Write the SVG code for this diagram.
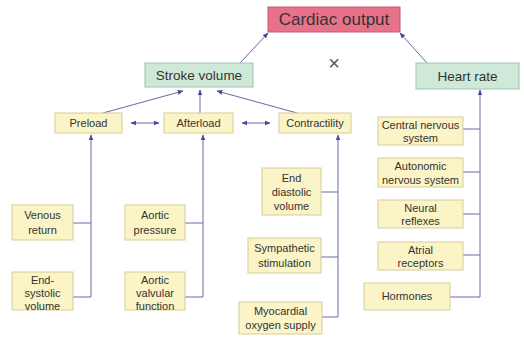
<svg xmlns="http://www.w3.org/2000/svg" width="524" height="337" viewBox="0 0 524 337">
<style>
.y{fill:#fbf4c6;stroke:#d6cd98;stroke-width:1}
.g{fill:#cfe9d9;stroke:#9fc4ae;stroke-width:1}
.p{fill:#e8728a;stroke:#c35a70;stroke-width:1}
.t{font-family:"Liberation Sans",Arial,sans-serif;font-size:11px;fill:#333;text-anchor:middle}
.l{stroke:#6a68a8;stroke-width:1;fill:none}
</style>
<defs>
<marker id="a" viewBox="0 0 10 10" refX="9" refY="5" markerWidth="6" markerHeight="6" orient="auto-start-reverse" markerUnits="userSpaceOnUse">
<path d="M0,1 L10,5 L0,9 Z" fill="#4a4898"/>
</marker>
</defs>
<rect width="524" height="337" fill="#fff"/>
<g id="connectors" class="l">
<line x1="240" y1="63" x2="268" y2="33" marker-end="url(#a)"/>
<line x1="427" y1="63" x2="400" y2="33" marker-end="url(#a)"/>
<line x1="103" y1="113" x2="183" y2="91" marker-end="url(#a)"/>
<line x1="200" y1="113" x2="200" y2="90" marker-end="url(#a)"/>
<line x1="297" y1="113" x2="217" y2="91" marker-end="url(#a)"/>
<line x1="131" y1="123" x2="159" y2="123" marker-start="url(#a)" marker-end="url(#a)"/>
<line x1="242" y1="123" x2="270" y2="123" marker-start="url(#a)" marker-end="url(#a)"/>
<polyline points="73,223 91,223"/>
<polyline points="73,297 91,297 91,135" marker-end="url(#a)"/>
<polyline points="185,223 203,223"/>
<polyline points="185,297 203,297 203,135" marker-end="url(#a)"/>
<polyline points="321,192 338,192"/>
<polyline points="321,257 338,257"/>
<polyline points="322,317 338,317 338,135" marker-end="url(#a)"/>
<polyline points="463,129 480,129"/>
<polyline points="463,172 480,172"/>
<polyline points="463,214 480,214"/>
<polyline points="463,255 480,255"/>
<polyline points="450,297 480,297 480,90" marker-end="url(#a)"/>
</g>
<g id="cardiac-output"><rect class="p" x="268" y="7" width="132" height="25"/><text class="t" x="334" y="25" style="font-size:17px">Cardiac output</text></g>
<g id="times"><text class="t" x="334" y="70" style="font-size:20px;fill:#555">×</text></g>
<g id="stroke-volume"><rect class="g" x="145" y="63" width="108" height="24"/><text class="t" x="199" y="80" style="font-size:13.5px">Stroke volume</text></g>
<g id="heart-rate"><rect class="g" x="416" y="63" width="103" height="26"/><text class="t" x="467.5" y="81" style="font-size:13.5px">Heart rate</text></g>
<g id="preload"><rect class="y" x="55" y="113" width="67" height="20"/><text class="t" x="88.5" y="127">Preload</text></g>
<g id="afterload"><rect class="y" x="164" y="113" width="69" height="20"/><text class="t" x="198.5" y="127">Afterload</text></g>
<g id="contractility"><rect class="y" x="279" y="113" width="72" height="20"/><text class="t" x="315" y="127">Contractility</text></g>
<g id="venous-return"><rect class="y" x="12" y="205" width="61" height="35"/><text class="t" x="42.5" y="219">Venous</text><text class="t" x="42.5" y="234">return</text></g>
<g id="end-systolic-volume"><rect class="y" x="12" y="272" width="61" height="38"/><text class="t" x="42.5" y="284">End-</text><text class="t" x="42.5" y="297">systolic</text><text class="t" x="42.5" y="310">volume</text></g>
<g id="aortic-pressure"><rect class="y" x="125" y="205" width="60" height="35"/><text class="t" x="155" y="219">Aortic</text><text class="t" x="155" y="234">pressure</text></g>
<g id="aortic-valvular-function"><rect class="y" x="125" y="272" width="60" height="38"/><text class="t" x="155" y="284">Aortic</text><text class="t" x="155" y="297">valvular</text><text class="t" x="155" y="310">function</text></g>
<g id="end-diastolic-volume"><rect class="y" x="262" y="168" width="59" height="47"/><text class="t" x="291.5" y="182">End</text><text class="t" x="291.5" y="196">diastolic</text><text class="t" x="291.5" y="210">volume</text></g>
<g id="sympathetic-stimulation"><rect class="y" x="248" y="238" width="73" height="35"/><text class="t" x="284.5" y="252">Sympathetic</text><text class="t" x="284.5" y="267">stimulation</text></g>
<g id="myocardial-oxygen-supply"><rect class="y" x="239" y="302" width="83" height="32"/><text class="t" x="280.5" y="315">Myocardial</text><text class="t" x="280.5" y="329">oxygen supply</text></g>
<g id="central-nervous-system"><rect class="y" x="378" y="117" width="85" height="28"/><text class="t" x="420.5" y="129">Central nervous</text><text class="t" x="420.5" y="142">system</text></g>
<g id="autonomic-nervous-system"><rect class="y" x="378" y="158" width="85" height="29"/><text class="t" x="420.5" y="170">Autonomic</text><text class="t" x="420.5" y="184">nervous system</text></g>
<g id="neural-reflexes"><rect class="y" x="378" y="200" width="85" height="28"/><text class="t" x="420.5" y="212">Neural</text><text class="t" x="420.5" y="225">reflexes</text></g>
<g id="atrial-receptors"><rect class="y" x="378" y="242" width="85" height="28"/><text class="t" x="420.5" y="254">Atrial</text><text class="t" x="420.5" y="267">receptors</text></g>
<g id="hormones"><rect class="y" x="364" y="283" width="86" height="27"/><text class="t" x="407" y="300">Hormones</text></g>
</svg>
